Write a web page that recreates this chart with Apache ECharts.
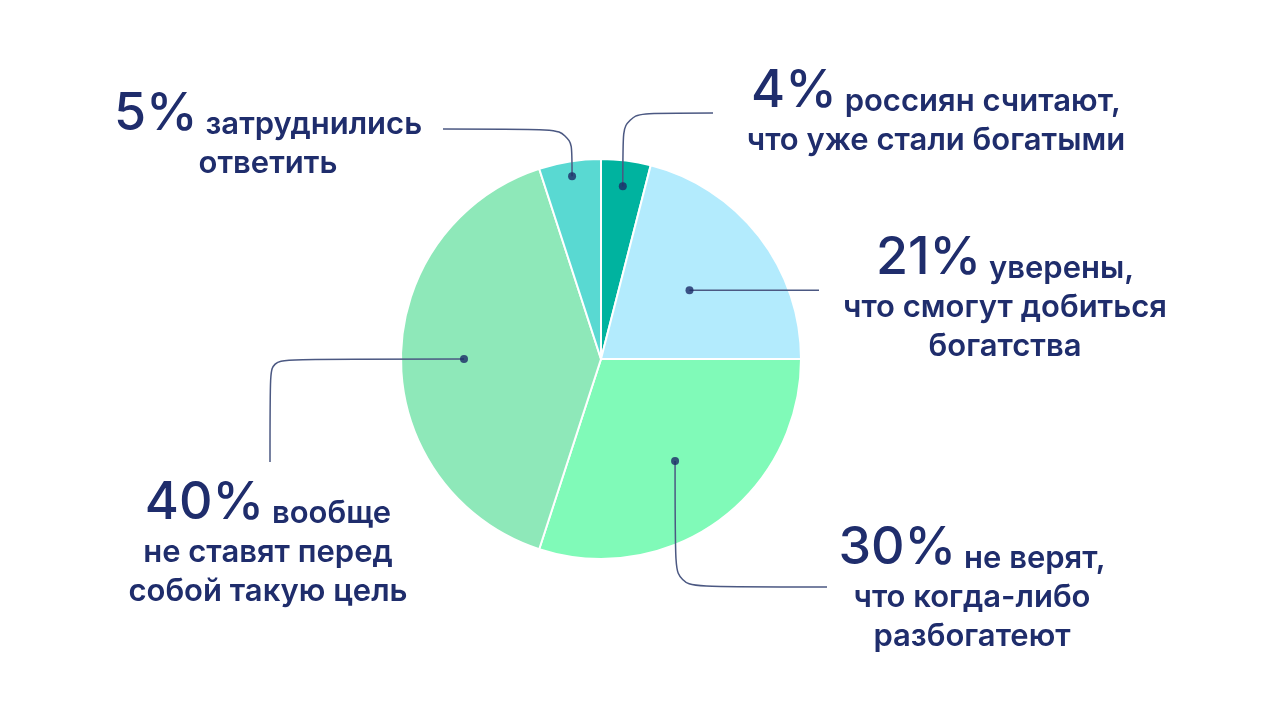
<!DOCTYPE html>
<html>
<head>
<meta charset="utf-8">
<script src="https://cdn.jsdelivr.net/npm/echarts@6/dist/echarts.min.js"></script>
<style>
html,body{margin:0;padding:0;background:#fff;}
#main{width:1280px;height:720px;}
</style>
</head>
<body>
<div id="main"></div>
<script>
// ---- data ----
const shares = [4, 21, 30, 40, 5];
const captionFirst = ['россиян считают,', 'уверены,', 'не верят,', 'вообще', 'затруднились'];
const captionRest = [
  ['что уже стали богатыми'],
  ['что смогут добиться', 'богатства'],
  ['что когда-либо', 'разбогатеют'],
  ['не ставят перед', 'собой такую цель'],
  ['ответить']
];
const colors = ['#00b39f', '#b3ebfd', '#80fab8', '#8ee8b9', '#59d9d2'];

// ---- layout (not data) ----
const CX = 601, CY = 359, R = 200;
const dotRadius = [0.87, 0.56, 0.63, 0.685, 0.925];
const textPos = [[936, 73], [1005, 240], [972, 530], [268, 485], [268, 96]];
const guides = [
  {mode: 'v', y: 113, x: 713, smooth: 0.2},
  {mode: 's', x: 819, smooth: 0},
  {mode: 'v', y: 587, x: 827, smooth: 0.12},
  {mode: 'h', x: 270, y: 462, smooth: 0.1},
  {mode: 'v', y: 129, x: 443, smooth: 0.3}
];

const total = shares.reduce((a, b) => a + b, 0);
function midShare(i) {
  let c = 0;
  for (let k = 0; k < i; k++) c += shares[k];
  return (c + shares[i] / 2) / total * 100;
}
function anchor(i) {
  const ang = midShare(i) / 100 * Math.PI * 2;
  const r = R * dotRadius[i];
  return [CX + r * Math.sin(ang), CY - r * Math.cos(ang)];
}

const chart = echarts.init(document.getElementById('main'), null, {renderer: 'canvas'});
const txtColor = '#1f2d6c';
const bodyFont = 'Inter';
const pieBase = {
  type: 'pie',
  center: [CX, CY],
  radius: R,
  startAngle: 90,
  clockwise: true,
  avoidLabelOverlap: false,
  silent: true
};
const option = {
  backgroundColor: '#ffffff',
  animation: false,
  polar: {center: [CX, CY], radius: R},
  angleAxis: {type: 'value', min: 0, max: 100, startAngle: 90, clockwise: true, show: false},
  radiusAxis: {type: 'value', min: 0, max: 1, show: false},
  series: [
    Object.assign({}, pieBase, {
      z: 2,
      itemStyle: {borderColor: '#ffffff', borderWidth: 2},
      label: {show: false},
      labelLine: {show: false},
      data: shares.map((v, i) => ({value: v, name: captionFirst[i], itemStyle: {color: colors[i]}}))
    }),
    Object.assign({}, pieBase, {
      z: 5,
      itemStyle: {color: 'rgba(0,0,0,0)', borderWidth: 0},
      label: {
        show: true,
        position: 'outside',
        color: txtColor,
        fontFamily: bodyFont,
        formatter: function (p) {
          const i = p.dataIndex;
          let s = '{p|' + shares[i] + '%}{t| ' + captionFirst[i] + '}';
          captionRest[i].forEach(l => { s += '\n{t|' + l + '}'; });
          return s;
        },
        rich: {
          p: {fontFamily: 'Inter', fontSize: 52, fontWeight: 500, color: txtColor, lineHeight: 44, verticalAlign: 'bottom'},
          t: {fontFamily: bodyFont, fontSize: 31, fontWeight: 600, color: txtColor, lineHeight: 39, verticalAlign: 'bottom'}
        }
      },
      labelLine: {show: true, lineStyle: {color: '#4b5882', width: 1.5}},
      labelLayout: function (params) {
        const i = params.dataIndex;
        const a = anchor(i);
        const g = guides[i];
        let pts;
        if (g.mode === 'v') pts = [a, [a[0], g.y], [g.x, g.y]];
        else if (g.mode === 'h') pts = [a, [g.x, a[1]], [g.x, g.y]];
        else pts = [a, [(a[0] + g.x) / 2, a[1]], [g.x, a[1]]];
        return {
          x: textPos[i][0],
          y: textPos[i][1],
          align: 'center',
          verticalAlign: 'top',
          labelLinePoints: pts
        };
      },
      data: shares.map((v, i) => ({
        value: v,
        name: captionFirst[i],
        labelLine: {smooth: guides[i].smooth}
      }))
    }),
    {
      type: 'scatter',
      coordinateSystem: 'polar',
      symbolSize: 8,
      silent: true,
      z: 10,
      itemStyle: {color: '#1c2a66'},
      data: shares.map((v, i) => [dotRadius[i], midShare(i)])
    }
  ]
};
chart.setOption(option);
</script>
</body>
</html>
